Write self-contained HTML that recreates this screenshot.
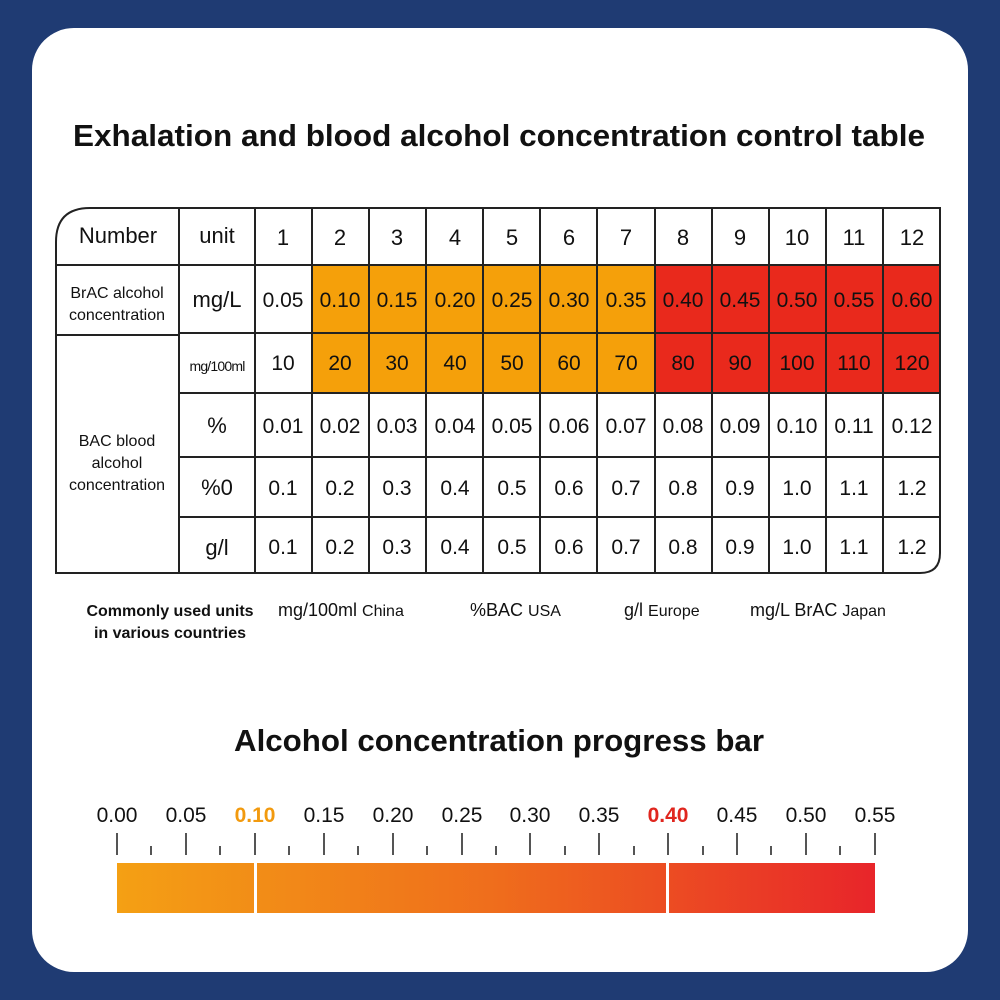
<!DOCTYPE html><html><head><style>body{margin:0;background:#1f3b73}svg{display:block}</style></head><body>
<svg width="1000" height="1000" xmlns="http://www.w3.org/2000/svg" font-family="Liberation Sans, DejaVu Sans, sans-serif">
<defs>
<linearGradient id="bar" x1="0" x2="1"><stop offset="0" stop-color="#f4a014"/><stop offset="0.5" stop-color="#ef6d1c"/><stop offset="1" stop-color="#e8252a"/></linearGradient>
</defs>
<rect width="1000" height="1000" fill="#1f3b73"/>
<rect x="32" y="28" width="936" height="944" rx="42" fill="#fff"/>
<text x="499" y="146" text-anchor="middle" font-size="31" font-weight="bold" fill="#111" textLength="852" lengthAdjust="spacingAndGlyphs">Exhalation and blood alcohol concentration control table</text>
<rect x="312" y="265" width="343" height="128" fill="#f5a00a"/>
<rect x="655" y="265" width="285" height="128" fill="#e9291c"/>
<g stroke="#222" stroke-width="2" fill="none">
<path d="M90 208 H940 V553 Q940 573 920 573 H56 V242 Q56 208 90 208 Z"/>
<path d="M56 265H940M179 333H940M56 335H179M179 393H940M179 457H940M179 517H940"/>
<path d="M179 208V573M255 208V573M312 208V573M369 208V573M426 208V573M483 208V573M540 208V573M597 208V573M655 208V573M712 208V573M769 208V573M826 208V573M883 208V573"/>
</g>
<g font-size="22" fill="#111" text-anchor="middle">
<text x="118" y="243">Number</text><text x="217" y="243">unit</text>
<text x="283" y="245">1</text><text x="340" y="245">2</text><text x="397" y="245">3</text><text x="455" y="245">4</text><text x="512" y="245">5</text><text x="569" y="245">6</text><text x="626" y="245">7</text><text x="683" y="245">8</text><text x="740" y="245">9</text><text x="797" y="245">10</text><text x="854" y="245">11</text><text x="912" y="245">12</text>
<text x="217" y="307">mg/L</text>
<g font-size="21"><text x="283" y="307">0.05</text><text x="340" y="307">0.10</text><text x="397" y="307">0.15</text><text x="455" y="307">0.20</text><text x="512" y="307">0.25</text><text x="569" y="307">0.30</text><text x="626" y="307">0.35</text><text x="683" y="307">0.40</text><text x="740" y="307">0.45</text><text x="797" y="307">0.50</text><text x="854" y="307">0.55</text><text x="912" y="307">0.60</text>
<text x="283" y="370">10</text><text x="340" y="370">20</text><text x="397" y="370">30</text><text x="455" y="370">40</text><text x="512" y="370">50</text><text x="569" y="370">60</text><text x="626" y="370">70</text><text x="683" y="370">80</text><text x="740" y="370">90</text><text x="797" y="370">100</text><text x="854" y="370">110</text><text x="912" y="370">120</text>
<text x="283" y="433">0.01</text><text x="340" y="433">0.02</text><text x="397" y="433">0.03</text><text x="455" y="433">0.04</text><text x="512" y="433">0.05</text><text x="569" y="433">0.06</text><text x="626" y="433">0.07</text><text x="683" y="433">0.08</text><text x="740" y="433">0.09</text><text x="797" y="433">0.10</text><text x="854" y="433">0.11</text><text x="912" y="433">0.12</text>
<text x="283" y="495">0.1</text><text x="340" y="495">0.2</text><text x="397" y="495">0.3</text><text x="455" y="495">0.4</text><text x="512" y="495">0.5</text><text x="569" y="495">0.6</text><text x="626" y="495">0.7</text><text x="683" y="495">0.8</text><text x="740" y="495">0.9</text><text x="797" y="495">1.0</text><text x="854" y="495">1.1</text><text x="912" y="495">1.2</text>
<text x="283" y="554">0.1</text><text x="340" y="554">0.2</text><text x="397" y="554">0.3</text><text x="455" y="554">0.4</text><text x="512" y="554">0.5</text><text x="569" y="554">0.6</text><text x="626" y="554">0.7</text><text x="683" y="554">0.8</text><text x="740" y="554">0.9</text><text x="797" y="554">1.0</text><text x="854" y="554">1.1</text><text x="912" y="554">1.2</text></g>
<text x="217" y="371" font-size="14" letter-spacing="-0.8">mg/100ml</text>
<text x="217" y="433">%</text><text x="217" y="495">%0</text><text x="217" y="555">g/l</text>
<g font-size="16"><text x="117" y="298">BrAC alcohol</text><text x="117" y="320">concentration</text>
<text x="117" y="446">BAC blood</text><text x="117" y="468">alcohol</text><text x="117" y="490">concentration</text></g>
</g>
<g font-size="16" font-weight="bold" fill="#111" text-anchor="middle"><text x="170" y="616">Commonly used units</text><text x="170" y="638">in various countries</text></g>
<g fill="#111"><text x="278" y="616" font-size="18">mg/100ml <tspan font-size="16">China</tspan></text>
<text x="470" y="616" font-size="18">%BAC <tspan font-size="16">USA</tspan></text>
<text x="624" y="616" font-size="18">g/l <tspan font-size="16">Europe</tspan></text>
<text x="750" y="616" font-size="18">mg/L BrAC <tspan font-size="16">Japan</tspan></text></g>
<text x="499" y="751" text-anchor="middle" font-size="31" font-weight="bold" fill="#111" textLength="530" lengthAdjust="spacingAndGlyphs">Alcohol concentration progress bar</text>
<g font-size="21" text-anchor="middle" fill="#111">
<text x="117" y="822">0.00</text><text x="186" y="822">0.05</text><text x="255" y="822" fill="#f29a0e" font-weight="bold">0.10</text><text x="324" y="822">0.15</text><text x="393" y="822">0.20</text><text x="462" y="822">0.25</text><text x="530" y="822">0.30</text><text x="599" y="822">0.35</text><text x="668" y="822" fill="#e0261e" font-weight="bold">0.40</text><text x="737" y="822">0.45</text><text x="806" y="822">0.50</text><text x="875" y="822">0.55</text>
</g>
<g stroke="#555" stroke-width="2">
<path d="M117 833V855M186 833V855M255 833V855M324 833V855M393 833V855M462 833V855M530 833V855M599 833V855M668 833V855M737 833V855M806 833V855M875 833V855"/>
<path d="M151 846V855M220 846V855M289 846V855M358 846V855M427 846V855M496 846V855M565 846V855M634 846V855M703 846V855M771 846V855M840 846V855"/>
</g>
<rect x="117" y="863" width="758" height="50" fill="url(#bar)"/>
<rect x="254" y="863" width="3" height="50" fill="#fff"/>
<rect x="666" y="863" width="3" height="50" fill="#fff"/>
</svg></body></html>
